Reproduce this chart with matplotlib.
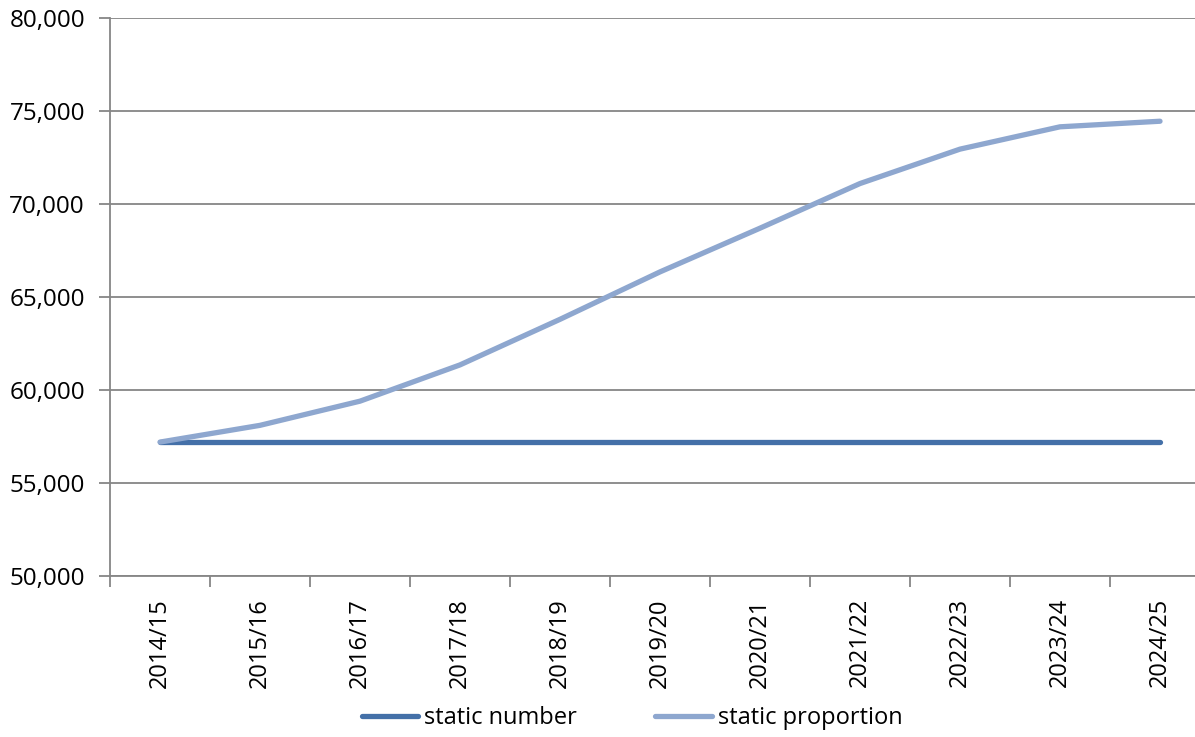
import matplotlib.pyplot as plt
import numpy as np

plt.rcParams['font.family'] = ['Open Sans', 'DejaVu Sans']

years = ['2014/15', '2015/16', '2016/17', '2017/18', '2018/19', '2019/20',
         '2020/21', '2021/22', '2022/23', '2023/24', '2024/25']
static_number = [57200] * 11
static_proportion = [57200, 58100, 59400, 61350, 63800, 66350,
                     68700, 71100, 72950, 74150, 74450]

fig = plt.figure(figsize=(11.95, 7.37), dpi=100)
# plot area runs a little past the right edge of the figure
ax = fig.add_axes([110 / 1195, 161 / 737, 1100 / 1195, 558 / 737])

x = np.arange(len(years))
ax.plot(x, static_number, color='#4470A8', lw=3.8, solid_capstyle='round',
        label='static number', zorder=3)
ax.plot(x, static_proportion, color='#8EA7CF', lw=3.8, solid_capstyle='round',
        label='static proportion', zorder=4)

ax.set_xlim(-0.5, len(years) - 0.5)
ax.set_ylim(50000, 80000)
ax.set_yticks(np.arange(50000, 80001, 5000))
ax.yaxis.set_major_formatter(plt.FuncFormatter(lambda v, p: f'{v:,.0f}'))
ax.yaxis.grid(True, color='#868686', lw=1.3)
ax.set_axisbelow(True)

ax.set_xticks(np.arange(len(years) + 1) - 0.5)
ax.set_xticklabels([])
ax.set_xticks(x, minor=True)
ax.set_xticklabels(years, minor=True, rotation=90, fontsize=17)
ax.tick_params(axis='x', which='minor', length=0, pad=16)
ax.tick_params(axis='x', which='major', length=8, width=1.3, color='#868686')
ax.tick_params(axis='y', length=8, width=1.3, color='#868686', labelsize=17.5, pad=10)

for s in ['top', 'right']:
    ax.spines[s].set_visible(False)
for s in ['left', 'bottom']:
    ax.spines[s].set_color('#868686')
    ax.spines[s].set_linewidth(1.3)

fig.legend(loc='center', bbox_to_anchor=(632 / 1195, 1 - 718 / 737), ncol=2,
           frameon=False, fontsize=17, handlelength=2.4, handletextpad=0.25,
           columnspacing=3.3)

fig.savefig('out.png', dpi=100)
